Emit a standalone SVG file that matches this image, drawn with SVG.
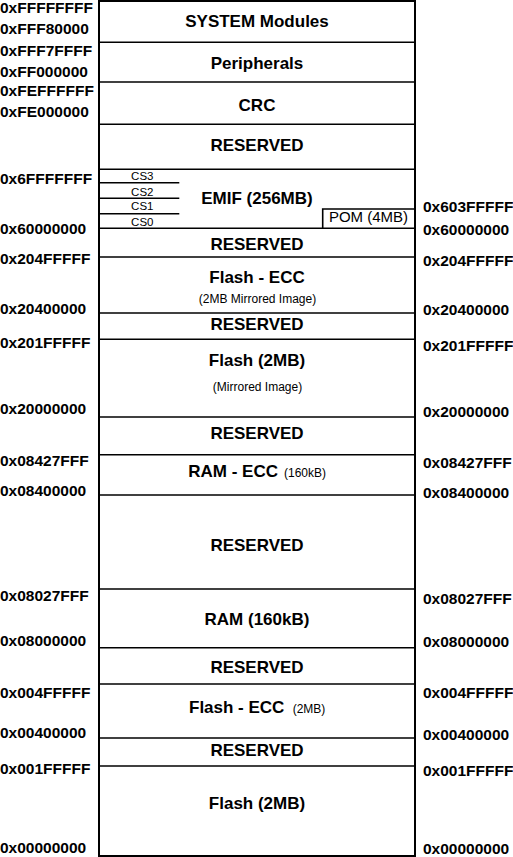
<svg xmlns="http://www.w3.org/2000/svg" width="513" height="857" viewBox="0 0 513 857">
<style>
.addr{font-family:"Liberation Sans",Arial,sans-serif;font-weight:bold;font-size:15.5px;fill:#000}
.ttl{font-family:"Liberation Sans",Arial,sans-serif;font-weight:bold;font-size:17px;fill:#000;text-anchor:middle}
.sm{font-family:"Liberation Sans",Arial,sans-serif;font-size:12px;fill:#000}
.cs{font-family:"Liberation Sans",Arial,sans-serif;font-size:11.5px;fill:#000;text-anchor:middle}
.pom{font-family:"Liberation Sans",Arial,sans-serif;font-size:15px;fill:#000;text-anchor:middle}
.ln{stroke:#000;stroke-width:1.6;fill:none}
.bx{stroke:#000;stroke-width:2;fill:#fff}
</style>
<rect width="513" height="857" fill="#fff"/>
<rect class="bx" x="99" y="1" width="316" height="855"/>
<g id="connectors">
<line class="ln" x1="99" y1="42.3" x2="415" y2="42.3"/>
<line class="ln" x1="99" y1="82" x2="414" y2="82"/>
<line class="ln" x1="99" y1="124.3" x2="414" y2="124.3"/>
<line class="ln" x1="99" y1="169.3" x2="415" y2="169.3"/>
<line class="ln" x1="99" y1="228.3" x2="415" y2="228.3"/>
<line class="ln" x1="99" y1="257" x2="415" y2="257"/>
<line class="ln" x1="99" y1="313" x2="414" y2="313"/>
<line class="ln" x1="99" y1="339.3" x2="414" y2="339.3"/>
<line class="ln" x1="99" y1="417" x2="414" y2="417"/>
<line class="ln" x1="99" y1="454.7" x2="415" y2="454.7"/>
<line class="ln" x1="99" y1="495" x2="415" y2="495"/>
<line class="ln" x1="99" y1="589" x2="414" y2="589"/>
<line class="ln" x1="99" y1="647.7" x2="415" y2="647.7"/>
<line class="ln" x1="99" y1="684" x2="415" y2="684"/>
<line class="ln" x1="99" y1="738" x2="415" y2="738"/>
<line class="ln" x1="99" y1="766" x2="415" y2="766"/>
</g>
<g id="system"><text class="ttl" x="257" y="26.5">SYSTEM Modules</text></g>
<g id="peripherals"><text class="ttl" x="257" y="69">Peripherals</text></g>
<g id="crc"><text class="ttl" x="257" y="110.5">CRC</text></g>
<g id="reserved1"><text class="ttl" x="257" y="151">RESERVED</text></g>
<g id="emif">
<text class="ttl" x="257" y="204">EMIF (256MB)</text>
<line class="ln" x1="99" y1="182.7" x2="179.3" y2="182.7"/>
<line class="ln" x1="99" y1="198.3" x2="179.3" y2="198.3"/>
<line class="ln" x1="99" y1="213.7" x2="179.3" y2="213.7"/>
<text class="cs" x="142.3" y="180">CS3</text>
<text class="cs" x="142.3" y="196">CS2</text>
<text class="cs" x="142.3" y="210">CS1</text>
<text class="cs" x="142.3" y="225.7">CS0</text>
</g>
<g id="pom">
<polyline class="ln" points="322.7,228.3 322.7,209 415,209"/>
<text class="pom" x="368.5" y="222">POM (4MB)</text>
</g>
<g id="reserved2"><text class="ttl" x="257" y="249.5">RESERVED</text></g>
<g id="flash-ecc-mirror">
<text class="ttl" x="257" y="283">Flash - ECC</text>
<text class="sm" x="257.5" y="303" text-anchor="middle">(2MB Mirrored Image)</text>
</g>
<g id="reserved3"><text class="ttl" x="257" y="330">RESERVED</text></g>
<g id="flash-mirror">
<text class="ttl" x="257" y="365.5">Flash (2MB)</text>
<text class="sm" x="257.5" y="391" text-anchor="middle">(Mirrored Image)</text>
</g>
<g id="reserved4"><text class="ttl" x="257" y="439">RESERVED</text></g>
<g id="ram-ecc">
<text class="ttl" x="188.3" y="476.5" text-anchor="start" style="text-anchor:start">RAM - ECC</text>
<text class="sm" x="284" y="476.5">(160kB)</text>
</g>
<g id="reserved5"><text class="ttl" x="257" y="550.5">RESERVED</text></g>
<g id="ram"><text class="ttl" x="257" y="625">RAM (160kB)</text></g>
<g id="reserved6"><text class="ttl" x="257" y="673">RESERVED</text></g>
<g id="flash-ecc">
<text class="ttl" x="189" y="713" style="text-anchor:start">Flash - ECC</text>
<text class="sm" x="292.7" y="713">(2MB)</text>
</g>
<g id="reserved7"><text class="ttl" x="257" y="756">RESERVED</text></g>
<g id="flash"><text class="ttl" x="257" y="808.5">Flash (2MB)</text></g>
<g id="left-addresses">
<text class="addr" x="0" y="13">0xFFFFFFFF</text>
<text class="addr" x="0" y="33.5">0xFFF80000</text>
<text class="addr" x="0" y="55.5">0xFFF7FFFF</text>
<text class="addr" x="0" y="76.5">0xFF000000</text>
<text class="addr" x="0" y="95.5">0xFEFFFFFF</text>
<text class="addr" x="0" y="116.5">0xFE000000</text>
<text class="addr" x="0" y="183.5">0x6FFFFFFF</text>
<text class="addr" x="0" y="233.5">0x60000000</text>
<text class="addr" x="0" y="263.8">0x204FFFFF</text>
<text class="addr" x="0" y="313.5">0x20400000</text>
<text class="addr" x="0" y="348">0x201FFFFF</text>
<text class="addr" x="0" y="414">0x20000000</text>
<text class="addr" x="0" y="466">0x08427FFF</text>
<text class="addr" x="0" y="495.5">0x08400000</text>
<text class="addr" x="0" y="601">0x08027FFF</text>
<text class="addr" x="0" y="646">0x08000000</text>
<text class="addr" x="0" y="697.5">0x004FFFFF</text>
<text class="addr" x="0" y="737.5">0x00400000</text>
<text class="addr" x="0" y="774">0x001FFFFF</text>
<text class="addr" x="0" y="852.5">0x00000000</text>
</g>
<g id="right-addresses">
<text class="addr" x="423" y="212">0x603FFFFF</text>
<text class="addr" x="423" y="235">0x60000000</text>
<text class="addr" x="423" y="266">0x204FFFFF</text>
<text class="addr" x="423" y="314.5">0x20400000</text>
<text class="addr" x="423" y="350.5">0x201FFFFF</text>
<text class="addr" x="423" y="416.5">0x20000000</text>
<text class="addr" x="423" y="467.5">0x08427FFF</text>
<text class="addr" x="423" y="497.5">0x08400000</text>
<text class="addr" x="423" y="603.5">0x08027FFF</text>
<text class="addr" x="423" y="646.5">0x08000000</text>
<text class="addr" x="423" y="697.5">0x004FFFFF</text>
<text class="addr" x="423" y="739.5">0x00400000</text>
<text class="addr" x="423" y="775.5">0x001FFFFF</text>
<text class="addr" x="423" y="853.5">0x00000000</text>
</g>
</svg>
